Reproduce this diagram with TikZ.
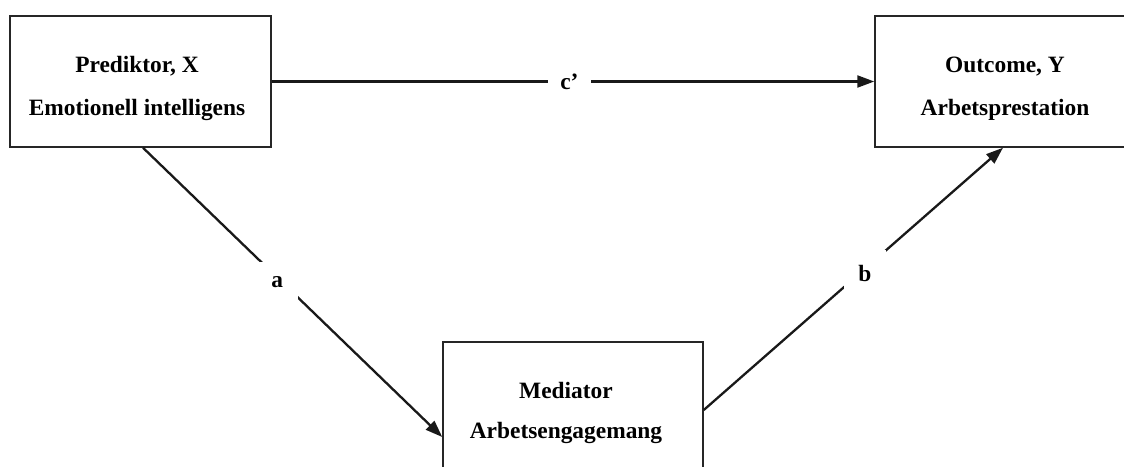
\documentclass[tikz,border=0pt]{standalone}
\usepackage{fontspec}
\setmainfont{Liberation Serif}
\usetikzlibrary{arrows.meta}

% Two centred bold lines inside a fixed-size box: #1 right offset, #2 line spacing
\newcommand{\boxlines}[5]{%
  \parbox[c][131pt][t]{#5}{\fontsize{23.4}{#2}\selectfont\bfseries\parskip=0pt
    \leftskip=0pt plus 1fil\rightskip=#1 plus 1fil\parfillskip=0pt\relax
    \rule{0pt}{56.7pt}#3\par#4\par}}

\tikzset{
  varbox/.style={draw=black!85, line width=1.5pt, rectangle, inner sep=0pt,
    minimum height=131pt},
  path/.style={draw=black!90, line width=2.3pt,
    -{Triangle[length=17pt,width=12pt]}},
  coef/.style={fill=white, font=\fontsize{23.4}{28}\selectfont\bfseries,
    inner sep=14.5pt},
  coefh/.style={coef, inner xsep=12.4pt, inner ysep=4pt}
}

\begin{document}
\begin{tikzpicture}[x=1pt,y=1pt]
  \useasboundingbox (0,0) rectangle (1124,-466);
  \clip (0,0) rectangle (1124,-466);

  \node[varbox, minimum width=261pt] (X) at (140.5,-81.5)
    {\boxlines{7pt}{43pt}{Prediktor, X}{Emotionell intelligens}{261pt}};
  \node[varbox, minimum width=261pt] (Y) at (1005.5,-81.5)
    {\boxlines{1pt}{43pt}{Outcome, Y}{Arbetsprestation}{261pt}};
  \node[varbox, minimum width=260pt] (M) at (573,-407.5)
    {\boxlines{14pt}{39.5pt}{Mediator}{Arbetsengagemang}{260pt}};

  \draw[path] (X.east) -- node[coefh, pos=0.494] (cl) {c’} (Y.west);
  \draw[path] ([xshift=2.5pt]X.south) -- node[coef, pos=0.455, xshift=-2pt, yshift=-2.5pt] (al) {a}
    ([yshift=-29.5pt]M.west);
  \draw[path] ([yshift=-2.5pt]M.east) -- node[coef, pos=0.535, xshift=1pt, yshift=-3.5pt] (bl) {b}
    ([xshift=-2.5pt]Y.south);
\end{tikzpicture}
\end{document}
